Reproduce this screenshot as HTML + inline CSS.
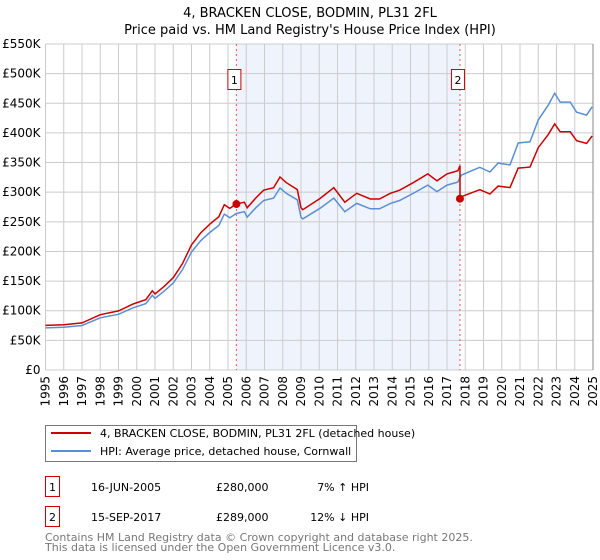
<!DOCTYPE html>
<html><head><meta charset="utf-8"><style>
body{margin:0;width:600px;height:560px;background:#fff;font-family:"DejaVu Sans","Liberation Sans",sans-serif;overflow:hidden}
svg{position:absolute;left:0;top:0}
</style></head><body>
<svg id="c" width="600" height="560">
<text x="310" y="17" text-anchor="middle" font-size="13">4, BRACKEN CLOSE, BODMIN, PL31 2FL</text>
<text x="310" y="34" text-anchor="middle" font-size="13">Price paid vs. HM Land Registry's House Price Index (HPI)</text>
<g id="plot"></g>
<g>
<rect x="45.5" y="425.5" width="311" height="36" fill="#fff" stroke="#777"/>
<line x1="51" y1="433" x2="91" y2="433" stroke="#cc0000" stroke-width="2"/>
<text x="100" y="437" font-size="11">4, BRACKEN CLOSE, BODMIN, PL31 2FL (detached house)</text>
<line x1="51" y1="451" x2="91" y2="451" stroke="#5b8fd4" stroke-width="2"/>
<text x="100" y="455" font-size="11">HPI: Average price, detached house, Cornwall</text>
</g>
<g font-size="11">
<rect x="45.5" y="476.5" width="14" height="20" fill="#fff" stroke="#cc0000"/>
<text x="52.5" y="491" text-anchor="middle">1</text>
<text x="91" y="491">16-JUN-2005</text>
<text x="216" y="491">£280,000</text>
<text x="369" y="491" text-anchor="end">7% ↑ HPI</text>
<rect x="45.5" y="506.5" width="14" height="20" fill="#fff" stroke="#cc0000"/>
<text x="52.5" y="521" text-anchor="middle">2</text>
<text x="91" y="521">15-SEP-2017</text>
<text x="216" y="521">£289,000</text>
<text x="369" y="521" text-anchor="end">12% ↓ HPI</text>
</g>
<text x="45" y="541" font-size="11" fill="#777">Contains HM Land Registry data © Crown copyright and database right 2025.</text>
<text x="45" y="551" font-size="11" fill="#777">This data is licensed under the Open Government Licence v3.0.</text>
</svg>
<script>
const hpiYears=[1995.0,1996.0,1997.0,1998.0,1999.0,1999.8,2000.5,2000.85,2001.0,2001.5,2002.0,2002.5,2003.0,2003.5,2004.0,2004.5,2004.8,2005.1,2005.46,2005.9,2006.05,2006.5,2006.95,2007.5,2007.85,2008.2,2008.8,2009.0,2009.1,2010.05,2010.8,2011.4,2012.05,2012.8,2013.3,2013.9,2014.4,2015.15,2015.95,2016.45,2017.0,2017.6,2017.71,2017.8,2018.8,2019.35,2019.8,2020.45,2020.9,2021.55,2022.0,2022.55,2022.9,2023.2,2023.75,2024.1,2024.65,2024.95];
const hpiValues=[71,72,75,88,94,105,112,126,121,133,147,169,199,218,232,244,263,257,264,267,258,273,286,290,307,298,287,258,255,273,290,267,281,272,272,281,286,298,312,301,312,317,325,329,342,334,349,346,383,385,422,447,467,452,452,435,430,444];
const saleYears=[2005.46,2017.71];
const salePrices=[280,289];
const saleLabels=["1","2"];
const yTicks=[0,50,100,150,200,250,300,350,400,450,500,550];
const yTickLabels=["£0","£50K","£100K","£150K","£200K","£250K","£300K","£350K","£400K","£450K","£500K","£550K"];
const xTicks=[1995,1996,1997,1998,1999,2000,2001,2002,2003,2004,2005,2006,2007,2008,2009,2010,2011,2012,2013,2014,2015,2016,2017,2018,2019,2020,2021,2022,2023,2024,2025];

const X0=45.5,X1=593,Y0=370,Y1=44;
const xs=y=>X0+(y-1995)/30*(X1-X0);
const ys=v=>Y0-v/550*(Y0-Y1);
const NS="http://www.w3.org/2000/svg";
const g=document.getElementById('plot');
function mk(t,a){const e=document.createElementNS(NS,t);for(const k in a)e.setAttribute(k,a[k]);g.appendChild(e);return e;}
function hpiAt(t){for(let i=1;i<hpiYears.length;i++){if(t<=hpiYears[i]){const f=(t-hpiYears[i-1])/(hpiYears[i]-hpiYears[i-1]);return hpiValues[i-1]+f*(hpiValues[i]-hpiValues[i-1]);}}return hpiValues[hpiValues.length-1];}

let sh=mk('rect',{x:xs(saleYears[0]),y:Y1,width:xs(saleYears[1])-xs(saleYears[0]),height:Y0-Y1,fill:'#eef3fc'});


yTicks.forEach((v,i)=>{
 let l=mk('line',{x1:X0,x2:X1,y1:ys(v),y2:ys(v),stroke:'#cccccc'});
 
 
 let t=mk('text',{x:X0-5,y:ys(v)+4,'text-anchor':'end','font-size':'12'});t.textContent=yTickLabels[i];
 
 
});
xTicks.forEach(yr=>{
 let l=mk('line',{x1:xs(yr),x2:xs(yr),y1:Y1,y2:Y0,stroke:'#cccccc'});
 
 
 let t=mk('text',{transform:`translate(${xs(yr)+4},376) rotate(-90)`,'text-anchor':'end','font-size':'12'});t.textContent=yr;
 
 
});
let bd=mk('line',{x1:X1,x2:X1,y1:Y1,y2:Y0,stroke:'#888'});


saleYears.forEach((sy,i)=>{
 let l=mk('line',{x1:xs(sy),x2:xs(sy),y1:Y1,y2:Y0,stroke:'#ee5555','stroke-dasharray':'2,3'});
 
 
 let r=mk('rect',{x:xs(sy)-8.5,y:69.5,width:13,height:20,fill:'#fff',stroke:'#cc0000'});
 
 
 let t=mk('text',{x:xs(sy)-2,y:84,'text-anchor':'middle','font-size':'11'});t.textContent=saleLabels[i];
 
 
});
let hp=hpiYears.map((y,i)=>(i?'L':'M')+xs(y).toFixed(1)+','+ys(hpiValues[i]).toFixed(1)).join('');
let hl=mk('path',{d:hp,fill:'none',stroke:'#5b8fd4','stroke-width':'1.5'});


const k0=salePrices[0]/hpiAt(saleYears[0]);
const k1=salePrices[1]/hpiAt(saleYears[1]);
let pts=[];
hpiYears.forEach((y,i)=>{
 if(y<saleYears[1]) pts.push([y,hpiValues[i]*k0]);
 if(y>=saleYears[1]-0.001 && pts.length && pts[pts.length-1][0]<saleYears[1]){pts.push([saleYears[1],hpiAt(saleYears[1])*k0]);pts.push([saleYears[1],salePrices[1]]);}
 if(y>saleYears[1]) pts.push([y,hpiValues[i]*k1]);
});
let rp=pts.map((p,i)=>(i?'L':'M')+xs(p[0]).toFixed(1)+','+ys(p[1]).toFixed(1)).join('');
let rl=mk('path',{d:rp,fill:'none',stroke:'#cc0000','stroke-width':'1.5'});


saleYears.forEach((sy,i)=>{
 let c=mk('circle',{cx:xs(sy),cy:ys(salePrices[i]),r:4,fill:'#cc0000'});
 
 
});
</script>
</body></html>
